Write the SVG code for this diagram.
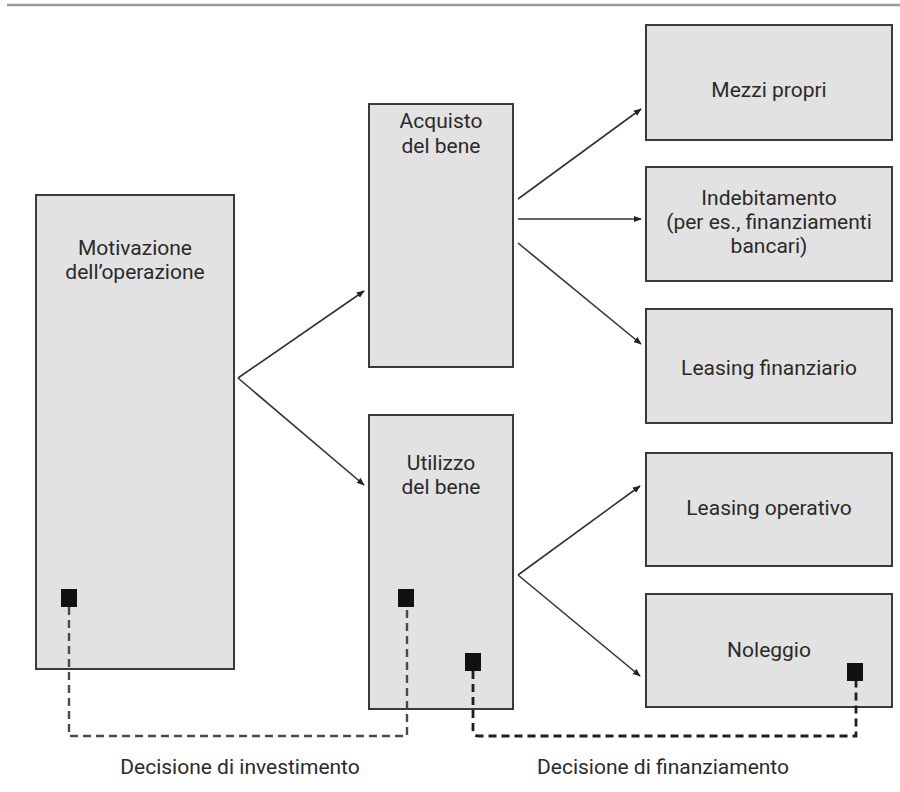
<svg xmlns="http://www.w3.org/2000/svg" width="900" height="792" viewBox="0 0 900 792">
  <defs>
    <style>
      .box { fill: #e2e2e2; stroke: #3a3a3a; stroke-width: 2; }
      .lbl { font-family: Roboto, "Liberation Sans", "Noto Sans", sans-serif; font-size: 21px; font-weight: 400; fill: #2a2a2a; text-anchor: middle; }
      .arrow { stroke: #333; stroke-width: 1.6; fill: none; marker-end: url(#head); }
      .dash { fill: none; stroke-dasharray: 8 5; }
      .inv { stroke: #4a4a4a; stroke-width: 2.4; }
      .fin { stroke: #1e1e1e; stroke-width: 2.8; }
      .pin { fill: #111; }
    </style>
    <marker id="head" viewBox="0 0 10 10" refX="9" refY="5" markerWidth="8" markerHeight="8" markerUnits="userSpaceOnUse" orient="auto">
      <path d="M0,1 L10,5 L0,9 Z" fill="#222"/>
    </marker>
  </defs>

  <rect width="900" height="792" fill="#ffffff"/>
  <line x1="7" y1="5" x2="900" y2="5" stroke="#9a9a9a" stroke-width="2.5"/>

  <g id="motivazione">
    <rect class="box" x="36" y="195" width="198" height="474"/>
    <text class="lbl" x="135" y="255">Motivazione</text>
    <text class="lbl" x="135" y="279">dell’operazione</text>
    <rect class="pin" x="61" y="589" width="16" height="18"/>
  </g>

  <g id="acquisto">
    <rect class="box" x="369" y="104" width="144" height="263"/>
    <text class="lbl" x="441" y="128">Acquisto</text>
    <text class="lbl" x="441" y="153">del bene</text>
  </g>

  <g id="utilizzo">
    <rect class="box" x="369" y="415" width="144" height="294"/>
    <text class="lbl" x="441" y="470">Utilizzo</text>
    <text class="lbl" x="441" y="494">del bene</text>
    <rect class="pin" x="398" y="589" width="16" height="18"/>
    <rect class="pin" x="465" y="653" width="16" height="18"/>
  </g>

  <g id="mezzi-propri">
    <rect class="box" x="646" y="25" width="246" height="115"/>
    <text class="lbl" x="769" y="97">Mezzi propri</text>
  </g>

  <g id="indebitamento">
    <rect class="box" x="646" y="167" width="246" height="114"/>
    <text class="lbl" x="769" y="205">Indebitamento</text>
    <text class="lbl" x="769" y="229">(per es., finanziamenti</text>
    <text class="lbl" x="769" y="253">bancari)</text>
  </g>

  <g id="leasing-finanziario">
    <rect class="box" x="646" y="309" width="246" height="114"/>
    <text class="lbl" x="769" y="375">Leasing finanziario</text>
  </g>

  <g id="leasing-operativo">
    <rect class="box" x="646" y="453" width="246" height="113"/>
    <text class="lbl" x="769" y="515">Leasing operativo</text>
  </g>

  <g id="noleggio">
    <rect class="box" x="646" y="594" width="246" height="113"/>
    <text class="lbl" x="769" y="657">Noleggio</text>
    <rect class="pin" x="847" y="663" width="16" height="18"/>
  </g>

  <g id="connectors">
    <line class="arrow" x1="238" y1="378" x2="364" y2="291"/>
    <line class="arrow" x1="238" y1="378" x2="364" y2="485"/>
    <line class="arrow" x1="518" y1="199" x2="641" y2="109"/>
    <line class="arrow" x1="518" y1="219" x2="641" y2="219"/>
    <line class="arrow" x1="518" y1="243" x2="641" y2="344"/>
    <line class="arrow" x1="518" y1="575" x2="640" y2="486"/>
    <line class="arrow" x1="518" y1="575" x2="640" y2="676"/>
    <path class="dash inv" d="M69,607 V736 H407 V607"/>
    <path class="dash fin" d="M473,671 V730 Q473,736 479,736 H856 V681"/>
  </g>

  <g id="legend">
    <text class="lbl" x="240" y="774">Decisione di investimento</text>
    <text class="lbl" x="663" y="774">Decisione di finanziamento</text>
  </g>
</svg>
